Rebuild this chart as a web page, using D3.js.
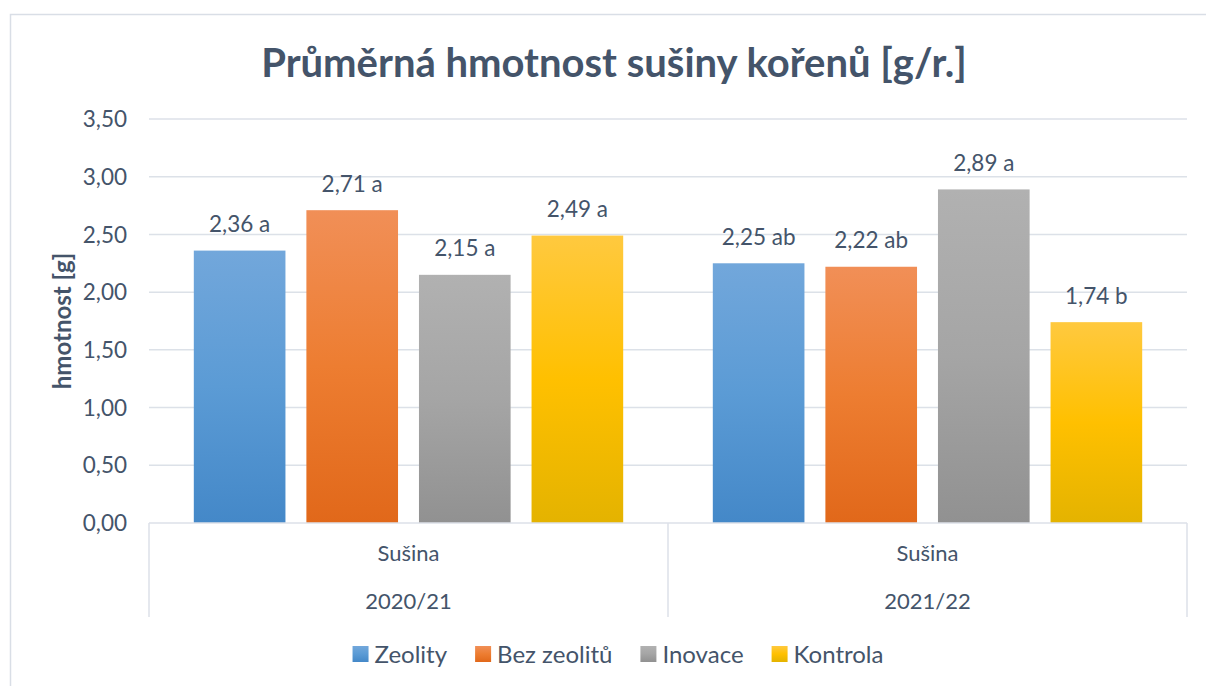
<!DOCTYPE html>
<html>
<head>
<meta charset="utf-8">
<script src="https://cdn.jsdelivr.net/npm/d3@7"></script>
<style>
  html, body { margin: 0; padding: 0; background: #ffffff; }
  svg { display: block; }
  text { font-family: Lato, "Open Sans", sans-serif; fill: #44546A; }
</style>
</head>
<body>
<svg id="chart" width="1206" height="686"></svg>
<script>
// ---- data ----
const groups = ["2020/21", "2021/22"];
const subCategory = ["Sušina", "Sušina"];
const seriesNames = ["Zeolity", "Bez zeolitů", "Inovace", "Kontrola"];
const values2020 = [2.36, 2.71, 2.15, 2.49];
const values2021 = [2.25, 2.22, 2.89, 1.74];
const letters2020 = ["a", "a", "a", "a"];
const letters2021 = ["ab", "ab", "a", "b"];
const yTicks = [0, 0.5, 1, 1.5, 2, 2.5, 3, 3.5];
const titleText = "Průměrná hmotnost sušiny kořenů [g/r.]";
const yTitle = "hmotnost [g]";

const seriesColors = [
  ["#72A7DB", "#5B9BD5", "#4488C8"],
  ["#F18F57", "#ED7D31", "#E1681A"],
  ["#B1B1B1", "#A5A5A5", "#919191"],
  ["#FFC93F", "#FFC000", "#E4B300"]
];

const valuesByGroup = [values2020, values2021];
const lettersByGroup = [letters2020, letters2021];

const svg = d3.select("#chart");
const gridColor = "#DCE1E8";

// outer chart border
svg.append("rect")
  .attr("x", 10.5).attr("y", 14.5)
  .attr("width", 1220).attr("height", 700)
  .attr("fill", "none").attr("stroke", "#D9DEE6").attr("stroke-width", 1.5);

// gradients
const defs = svg.append("defs");
seriesColors.forEach((c, i) => {
  const g = defs.append("linearGradient").attr("id", "grad" + i)
    .attr("x1", 0).attr("y1", 0).attr("x2", 0).attr("y2", 1);
  g.append("stop").attr("offset", "0%").attr("stop-color", c[0]);
  g.append("stop").attr("offset", "50%").attr("stop-color", c[1]);
  g.append("stop").attr("offset", "100%").attr("stop-color", c[2]);
});

// scales
const plotLeft = 149, plotRight = 1187, plotTop = 119, plotBottom = 523;
const y = d3.scaleLinear().domain([0, 3.5]).range([plotBottom, plotTop]);
const x0 = d3.scaleBand().domain(groups).range([plotLeft, plotRight]).padding(0);
const x1 = d3.scaleBand().domain(seriesNames).range([0, x0.bandwidth()])
  .paddingInner(0.186).paddingOuter(0.398);

// gridlines
svg.append("g").selectAll("line").data(yTicks.filter(d => d > 0)).join("line")
  .attr("x1", plotLeft).attr("x2", plotRight)
  .attr("y1", d => y(d)).attr("y2", d => y(d))
  .attr("stroke", gridColor).attr("stroke-width", 1.5);

// y axis tick labels
const fmt = d => d.toFixed(2).replace(".", ",");
svg.append("g").selectAll("text").data(yTicks).join("text")
  .attr("x", 127).attr("y", d => y(d)).attr("dy", "0.36em")
  .attr("text-anchor", "end").attr("font-size", 22.5)
  .text(fmt);

// bars
const barData = [];
groups.forEach((g, gi) => {
  seriesNames.forEach((s, si) => {
    barData.push({ g, s, si, v: valuesByGroup[gi][si], l: lettersByGroup[gi][si] });
  });
});

svg.append("g").selectAll("rect").data(barData).join("rect")
  .attr("x", d => x0(d.g) + x1(d.s))
  .attr("y", d => y(d.v))
  .attr("width", x1.bandwidth())
  .attr("height", d => y(0) - y(d.v))
  .attr("fill", d => "url(#grad" + d.si + ")");

// data labels
svg.append("g").selectAll("text").data(barData).join("text")
  .attr("x", d => x0(d.g) + x1(d.s) + x1.bandwidth() / 2)
  .attr("y", d => y(d.v) - 18.5)
  .attr("text-anchor", "middle").attr("font-size", 22.5)
  .text(d => fmt(d.v) + " " + d.l);

// category axis
const axisG = svg.append("g").attr("stroke", gridColor).attr("stroke-width", 1.5);
axisG.append("line").attr("x1", plotLeft).attr("x2", plotRight)
  .attr("y1", plotBottom).attr("y2", plotBottom);
[plotLeft, x0(groups[1]), plotRight].forEach(xv => {
  axisG.append("line").attr("x1", xv).attr("x2", xv)
    .attr("y1", plotBottom).attr("y2", 617);
});

svg.append("g").selectAll("text").data(groups).join("text")
  .attr("x", d => x0(d) + x0.bandwidth() / 2).attr("y", 561)
  .attr("text-anchor", "middle").attr("font-size", 22)
  .text((d, i) => subCategory[i]);
svg.append("g").selectAll("text").data(groups).join("text")
  .attr("x", d => x0(d) + x0.bandwidth() / 2).attr("y", 609)
  .attr("text-anchor", "middle").attr("font-size", 22)
  .text(d => d);

// title
svg.append("text").attr("x", 614).attr("y", 77)
  .attr("text-anchor", "middle").attr("font-size", 40).attr("font-weight", "bold")
  .text(titleText);

// y axis title
svg.append("text")
  .attr("transform", "translate(71,321) rotate(-90)")
  .attr("text-anchor", "middle").attr("font-size", 24).attr("font-weight", "bold")
  .text(yTitle);

// legend
const legend = svg.append("g");
const sq = 16, gapT = 6, gapItem = 28, legendY = 654;
const items = legend.selectAll("g").data(seriesNames).join("g");
items.append("rect").attr("width", sq).attr("height", sq)
  .attr("y", legendY - sq / 2)
  .attr("fill", (d, i) => "url(#grad" + i + ")");
items.append("text").attr("x", sq + gapT).attr("y", legendY).attr("dy", "0.36em")
  .attr("font-size", 24).text(d => d);
const widths = [];
items.each(function () {
  const w = sq + gapT + this.querySelector("text").getComputedTextLength();
  widths.push(w);
});
const total = d3.sum(widths) + gapItem * (widths.length - 1);
let startX = 618 - total / 2;
items.attr("transform", (d, i) => {
  const t = "translate(" + startX + ",0)";
  startX += widths[i] + gapItem;
  return t;
});
</script>
</body>
</html>
